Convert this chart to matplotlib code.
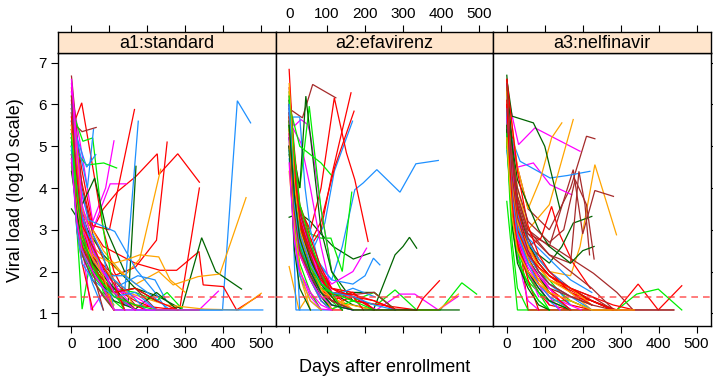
import matplotlib
matplotlib.use("Agg")
import matplotlib.pyplot as plt

plt.rcParams['font.family'] = ['Liberation Sans', 'DejaVu Sans']

panel_titles = ["a1:standard", "a2:efavirenz", "a3:nelfinavir"]
x_ticks = [0, 100, 200, 300, 400, 500]
y_ticks = [1, 2, 3, 4, 5, 6, 7]
detect_limit = 1.398  # log10(25)

# one entry per subject: visit days, log10 viral load, colour key
std_days = [
    [0, 7, 28, 56, 112, 200, 300, 398, 437, 472],
    [0, 28, 56, 84, 122, 170, 226, 230, 280, 337],
    [0, 28, 56, 112, 168, 224, 252],
    [0, 28, 56, 112, 168, 230, 286, 337],
    [0, 28, 84, 168, 233, 277, 336, 347, 400, 435, 497],
    [0, 28, 84, 168, 230, 290, 343, 380, 448],
    [0, 28, 84, 130, 170, 230, 268, 334, 391, 460],
    [0, 28, 56, 100, 140, 180, 235],
    [0, 28, 56, 100, 140, 176],
    [0, 28, 56, 90, 112],
    [0, 28, 56, 102, 145],
    [0, 28, 56, 100, 166],
    [0, 27, 56, 84, 112, 140],
    [0, 28, 65],
    [0, 28, 56, 84, 112, 140],
    [0, 30, 56, 84, 112],
    [0, 40, 85, 119],
    [0, 28, 56, 112, 149, 170],
    [0, 28, 42, 58],
    [0, 40, 64],
    [0, 44, 114, 171, 220, 250],
    [0, 28, 56, 112],
    [0, 28, 61, 92, 140],
    [0, 28, 56, 100],
    [0, 28, 52, 84, 112],
    [0, 28, 56, 112, 168, 224, 252, 294],
    [0, 28, 56, 112, 200, 336, 387],
    [0, 28, 56, 112, 250, 350, 440, 500],
    [0, 28, 56, 112, 168, 250, 350, 504],
    [0, 28, 56, 112, 150, 180, 230, 260, 300],
    [0, 28, 56, 112, 175, 220, 250],
    [0, 14, 28, 56, 84, 140],
    [0, 14, 28, 56, 84, 112],
    [0, 14, 28, 56, 84, 112, 140],
    [0, 14, 28, 56, 84, 112],
    [0, 14, 28, 56, 84, 112],
    [0, 28, 56, 84, 112, 140, 168],
    [0, 14, 28, 56, 84, 112, 168, 224],
    [0, 28, 56, 84, 140, 200, 260],
    [0, 14, 28, 56, 112, 168, 224, 280],
    [0, 28, 56, 84, 140, 196],
    [0, 28, 56, 112],
    [0, 28, 56, 84, 112],
    [0, 14, 28, 56, 112, 168],
    [0, 14, 28, 56, 84, 112],
    [0, 28, 56, 84, 112, 168, 280],
    [0, 28, 56, 84, 112],
    [0, 28, 56, 112, 168],
    [0, 28, 56, 84],
    [0, 28, 56, 84, 112, 168, 224],
    [0, 7, 14, 28, 56, 84, 112],
    [0, 7, 14, 28, 42, 56, 84],
    [0, 7, 21, 42, 84, 112, 168],
    [0, 7, 14, 28, 56, 84, 112, 140, 168],
    [0, 7, 14, 28, 56, 112, 168, 224],
    [0, 7, 14, 28, 56, 84, 112],
    [0, 7, 14, 28, 56, 84, 112, 168],
    [0, 7, 14, 28, 56],
    [0, 7, 14, 28, 56, 84, 140, 196],
    [0, 7, 14, 28, 56, 84, 112, 140],
    [0, 7, 14, 28, 56, 84, 112, 168, 224, 280],
    [0, 14, 28, 56, 84, 112, 168],
    [0, 7, 14, 28, 56, 84, 112],
    [0, 7, 14, 28, 56, 84, 112, 168, 224],
    [0, 14, 28, 56, 84, 112, 140],
    [0, 7, 14, 28, 56, 84],
    [0, 14, 28, 56, 84, 112, 168, 224, 280, 336],
    [0, 7, 14, 28, 56, 84, 112, 168, 336],
]
std_vals = [
    [5.3, 4.6, 3.1, 2.1, 1.08, 1.08, 1.08, 1.08, 6.09, 5.56],
    [5.5, 4.1, 3.0, 3.5, 3.92, 4.28, 4.82, 4.32, 4.82, 4.14],
    [5.0, 3.2, 2.4, 1.9, 2.1, 2.75, 5.1],
    [5.2, 3.0, 2.2, 1.6, 1.3, 1.08, 1.15, 4.0],
    [5.8, 3.4, 2.6, 2.2, 2.03, 2.03, 2.48, 1.68, 1.64, 1.08, 1.44],
    [4.8, 3.2, 2.4, 1.6, 1.4, 1.1, 2.81, 2.0, 1.58],
    [5.5, 3.5, 2.5, 2.0, 1.7, 2.0, 1.68, 1.88, 1.94, 3.77],
    [5.1, 3.3, 2.6, 2.2, 1.9, 2.3, 4.45],
    [4.9, 2.9, 2.1, 1.6, 1.5, 5.6],
    [6.3, 4.8, 3.2, 4.0, 5.13],
    [5.7, 3.8, 3.0, 4.1, 4.1],
    [6.0, 4.4, 3.1, 3.0, 5.88],
    [5.4, 6.04, 4.5, 3.0, 2.0, 1.5],
    [5.6, 5.35, 5.45],
    [6.68, 4.0, 2.9, 2.3, 1.8, 1.08],
    [5.9, 5.12, 5.2, 3.0, 1.5],
    [5.0, 4.55, 4.6, 4.48],
    [5.2, 3.4, 2.6, 1.5, 1.2, 4.52],
    [5.8, 4.6, 4.0, 5.4],
    [5.6, 4.5, 4.8],
    [5.0, 3.24, 2.96, 2.04, 1.5, 1.1],
    [3.5, 3.1, 2.4, 1.5],
    [5.3, 3.6, 4.24, 3.0, 2.0],
    [5.0, 1.1, 2.6, 1.3],
    [5.3, 2.6, 1.08, 1.5, 1.08],
    [5.4, 3.0, 2.0, 1.6, 1.5, 1.3, 1.5, 1.08],
    [5.9, 3.0, 2.0, 1.4, 1.08, 1.08, 1.53],
    [5.2, 3.0, 2.2, 1.6, 1.2, 1.1, 1.08, 1.48],
    [4.8, 2.8, 2.0, 1.4, 1.08, 1.08, 1.08, 1.08],
    [4.6, 3.0, 2.4, 2.2, 2.3, 2.4, 2.35, 1.8, 1.5],
    [5.5, 3.1, 2.2, 1.6, 1.9, 1.8, 1.3],
    [6.2, 4.5, 3.2, 2.4, 1.5, 1.08],
    [6.4, 4.8, 3.0, 2.4, 1.8, 1.08],
    [5.9, 4.2, 2.8, 2.6, 2.0, 1.5, 1.2],
    [5.8, 4.4, 2.9, 2.2, 1.6, 1.08],
    [6.5, 5.0, 3.4, 2.5, 1.9, 1.08],
    [5.0, 3.0, 2.5, 2.0, 1.7, 1.4, 1.08],
    [4.6, 3.5, 2.7, 2.3, 1.6, 1.5, 1.6, 1.08],
    [5.1, 2.9, 2.3, 1.9, 1.9, 1.5, 1.08],
    [5.3, 3.9, 2.6, 2.0, 1.3, 1.1, 1.5, 1.08],
    [4.7, 2.8, 2.2, 1.7, 1.3, 1.08],
    [5.6, 2.4, 1.8, 1.08],
    [4.9, 2.7, 2.0, 1.6, 1.2],
    [6.1, 4.4, 3.0, 1.9, 1.5, 1.08],
    [5.7, 4.0, 2.7, 2.9, 2.4, 1.08],
    [5.4, 3.2, 2.1, 1.7, 1.4, 1.2, 1.08],
    [4.5, 2.5, 1.9, 1.6, 1.08],
    [5.2, 3.3, 2.4, 1.8, 1.2],
    [6.2, 3.5, 2.8, 1.7],
    [4.4, 2.6, 2.0, 1.7, 1.5, 1.6, 1.3],
    [6.1, 5.2, 4.0, 2.9, 2.2, 1.6, 1.08],
    [5.6, 4.6, 3.6, 2.6, 2.1, 1.7, 1.08],
    [4.9, 4.2, 3.0, 2.3, 1.8, 1.5, 1.08],
    [5.9, 4.9, 3.9, 3.1, 2.4, 2.1, 1.8, 1.6, 1.08],
    [6.3, 5.5, 4.3, 3.2, 2.3, 1.6, 1.4, 1.08],
    [5.4, 4.6, 3.3, 2.4, 1.8, 1.4, 1.08],
    [5.1, 4.3, 3.4, 2.8, 2.2, 1.9, 1.6, 1.08],
    [5.8, 4.1, 3.0, 2.2, 1.08],
    [6.0, 5.1, 4.2, 3.3, 2.6, 2.0, 1.6, 1.08],
    [5.3, 4.4, 3.1, 2.5, 2.0, 1.7, 1.5, 1.08],
    [4.8, 4.0, 3.1, 2.6, 2.1, 1.8, 1.5, 1.6, 1.3, 1.08],
    [6.6, 5.1, 3.6, 2.7, 2.0, 1.5, 1.08],
    [5.5, 4.8, 3.7, 2.8, 2.3, 1.9, 1.08],
    [5.0, 3.9, 3.0, 2.2, 1.8, 1.6, 1.4, 1.5, 1.08],
    [5.7, 4.3, 3.1, 2.6, 2.1, 1.7, 1.08],
    [6.2, 5.0, 3.8, 2.9, 2.0, 1.08],
    [5.2, 4.0, 2.9, 2.1, 1.7, 1.4, 1.2, 1.08, 1.08, 1.08],
    [4.7, 3.9, 3.2, 2.5, 2.0, 1.6, 1.08, 1.08, 1.08],
]
std_cols = ("brrrrdoobmmrrnnggdbbbdd" "gmgmobobgrrommnbdrgombrgnod"
            "rbgomndrbgrmobrngm")

efv_days = [
    [0, 28, 56, 112, 140, 173, 195, 231, 292, 334, 393],
    [0, 28, 56, 94, 119, 167],
    [0, 28, 56, 112, 168, 222, 279, 300, 317, 336],
    [0, 28, 56, 84, 116, 169, 213],
    [0, 28, 56, 84, 110, 140, 165],
    [0, 28, 56, 112, 168, 230, 279, 336, 398, 455, 494],
    [0, 28, 56, 112, 168, 230, 292, 331, 393, 446],
    [0, 28, 56, 112, 224, 336, 393, 446],
    [0, 28, 56, 112, 168, 240, 336, 353, 396],
    [0, 35, 62, 123],
    [0, 28, 56, 84, 119, 151, 173, 208],
    [0, 28, 56, 84, 112, 163],
    [0, 28, 56, 84, 120, 171],
    [0, 14, 28, 56, 84, 112, 140],
    [0, 13, 31, 49, 56, 84, 112],
    [0, 31, 56, 84, 112],
    [0, 10, 28, 42, 56, 84],
    [0, 28, 53, 84, 112, 140],
    [0, 28, 44, 84, 112, 168],
    [0, 28, 56, 84, 110],
    [0, 26, 56, 84],
    [0, 18, 56, 112],
    [0, 28, 56, 112, 168, 200, 222, 239],
    [0, 28, 56, 112, 168, 204],
    [0, 14, 28, 56, 84, 112, 168],
    [0, 14, 28, 56, 84, 112],
    [0, 14, 28, 56, 84, 140],
    [0, 14, 28, 56, 84, 112, 168],
    [0, 14, 28, 56, 84, 112],
    [0, 14, 28, 56, 84, 112, 140, 168, 224],
    [0, 14, 28, 56, 84, 112, 168, 224, 280],
    [0, 14, 28, 56, 84, 112],
    [0, 14, 28, 56, 84, 112, 140, 168],
    [0, 14, 28, 56, 84, 112, 168, 224],
    [0, 14, 28, 56, 84, 112, 168, 224, 280],
    [0, 14, 28, 56, 84, 112, 168, 224],
    [0, 14, 28, 56, 84, 112, 140],
    [0, 14, 28, 56, 84, 112, 168, 224, 280],
    [0, 14, 28, 56],
    [0, 14, 28, 56, 84, 112, 168, 224],
    [0, 14, 28, 56, 84, 112, 168],
    [0, 14, 28, 56, 84, 112],
    [0, 14, 28, 56, 84, 112, 140, 168, 196],
    [0, 14, 28, 56, 84, 112],
    [0, 14, 28],
    [0, 14, 28, 56, 84, 112, 168],
    [0, 14, 28, 56, 84, 112, 168, 224, 280, 336],
    [0, 28, 56, 84, 112, 168, 224, 280],
    [0, 7, 14, 28, 56, 84, 112],
    [0, 7, 14, 28, 56, 84],
    [0, 7, 14, 28, 56, 84, 112, 168],
    [0, 7, 14, 28, 56, 84, 112],
    [0, 7, 14, 28, 56, 84, 112, 168],
    [0, 7, 14, 28, 56, 84, 112, 140],
    [0, 7, 14, 28, 56, 84],
    [0, 7, 14, 28, 56, 84, 112, 168, 224],
    [0, 7, 14, 28, 56, 84, 112],
    [0, 7, 14, 28, 56, 84, 112, 168],
    [0, 7, 14, 28, 56, 84, 112, 168, 224, 280],
    [0, 7, 14, 28, 56],
    [0, 7, 14, 28, 56, 84, 112, 140],
    [0, 7, 14, 28, 42, 56, 84],
    [0, 7, 14, 28, 56, 84, 112, 168, 224, 280, 336],
    [0, 7, 14, 28, 56, 84, 112],
    [0, 7, 14, 28, 56, 84, 112, 168],
    [0, 14, 28, 56, 84, 112, 168, 224, 280, 336, 392, 448],
]
efv_vals = [
    [5.5, 3.5, 2.5, 1.8, 2.6, 3.96, 4.12, 4.44, 3.9, 4.58, 4.66],
    [5.4, 3.3, 2.4, 3.16, 4.4, 5.6],
    [4.8, 3.0, 2.2, 1.5, 1.2, 1.08, 2.4, 2.6, 2.82, 2.56],
    [3.3, 3.4, 3.2, 2.9, 2.6, 2.3, 2.44],
    [5.2, 3.6, 2.9, 2.8, 2.8, 2.0, 3.9],
    [5.4, 3.0, 2.0, 1.5, 1.3, 1.2, 1.56, 1.08, 1.08, 1.73, 1.46],
    [5.8, 3.4, 2.3, 1.6, 1.4, 1.08, 1.46, 1.46, 1.08, 1.41],
    [5.0, 2.8, 1.9, 1.3, 1.08, 1.08, 1.08, 1.46],
    [5.6, 3.2, 2.2, 1.6, 1.3, 1.2, 1.08, 1.36, 1.78],
    [5.9, 5.68, 6.48, 6.16],
    [5.0, 3.5, 3.0, 4.0, 6.16, 4.84, 4.2, 2.72],
    [5.8, 3.2, 2.6, 3.0, 4.3, 6.28],
    [5.6, 3.4, 2.7, 3.2, 4.5, 5.84],
    [6.84, 4.5, 3.5, 2.6, 2.0, 1.5, 1.08],
    [5.9, 5.48, 5.64, 5.52, 5.28, 3.5, 2.0],
    [5.6, 5.08, 4.0, 2.6, 1.5],
    [5.0, 5.7, 5.7, 4.0, 3.0, 2.0],
    [5.2, 4.0, 5.96, 3.5, 2.0, 1.5],
    [5.4, 4.0, 6.2, 3.0, 2.0, 1.3],
    [6.0, 5.0, 4.8, 4.6, 4.32],
    [2.12, 1.08, 1.5, 1.08],
    [6.0, 1.08, 1.08, 1.08],
    [5.2, 3.3, 2.4, 1.8, 1.7, 1.9, 2.32, 2.16],
    [5.3, 3.3, 2.4, 1.7, 2.0, 2.56],
    [6.2, 4.6, 3.3, 2.4, 1.9, 1.4, 1.08],
    [5.7, 4.1, 3.0, 2.2, 1.6, 1.08],
    [5.5, 3.9, 2.8, 2.0, 1.5, 1.08],
    [5.9, 4.3, 3.2, 2.4, 1.7, 1.3, 1.08],
    [4.7, 3.5, 2.6, 1.9, 1.3, 1.08],
    [5.3, 4.0, 3.0, 2.3, 1.8, 1.5, 1.3, 1.4, 1.08],
    [5.6, 4.2, 3.1, 2.3, 1.7, 1.4, 1.5, 1.5, 1.08],
    [6.0, 4.6, 3.4, 2.5, 1.8, 1.08],
    [5.1, 3.8, 2.6, 1.9, 1.5, 1.08, 1.3, 1.08],
    [6.4, 4.9, 3.6, 2.8, 2.1, 1.6, 1.5, 1.08],
    [4.9, 3.5, 2.5, 1.8, 1.4, 1.1, 1.3, 1.5, 1.08],
    [5.8, 4.2, 3.0, 2.2, 1.7, 1.4, 1.6, 1.4],
    [5.0, 3.4, 2.4, 1.8, 1.3, 1.08, 1.08],
    [6.1, 4.7, 3.4, 2.6, 1.9, 1.5, 1.45, 1.5, 1.08],
    [4.4, 3.0, 1.9, 1.08],
    [5.5, 4.1, 2.9, 2.1, 1.6, 1.3, 1.5, 1.08],
    [5.4, 3.9, 2.8, 2.0, 1.5, 1.2, 1.08],
    [6.3, 4.8, 3.6, 2.7, 2.0, 1.4],
    [5.7, 4.3, 3.2, 2.5, 2.0, 1.6, 1.5, 1.4, 1.08],
    [5.0, 3.6, 2.6, 1.9, 1.4, 1.08],
    [5.2, 3.5, 1.08],
    [5.4, 4.0, 2.8, 2.0, 1.5, 1.4, 1.08],
    [6.0, 4.4, 3.1, 2.3, 1.8, 1.5, 1.4, 1.3, 1.1, 1.08],
    [5.2, 3.0, 2.2, 1.7, 1.45, 1.45, 1.3, 1.08],
    [6.0, 4.8, 3.6, 2.6, 1.8, 1.3, 1.08],
    [5.5, 4.2, 3.1, 2.2, 1.5, 1.08],
    [6.3, 5.0, 3.9, 2.9, 2.0, 1.6, 1.4, 1.08],
    [5.2, 4.0, 2.9, 2.0, 1.4, 1.1, 1.08],
    [5.8, 4.6, 3.5, 2.5, 1.9, 1.5, 1.3, 1.08],
    [6.1, 5.1, 4.0, 3.0, 2.3, 1.7, 1.4, 1.08],
    [4.9, 3.9, 2.8, 1.9, 1.3, 1.08],
    [5.6, 4.5, 3.5, 2.6, 2.0, 1.6, 1.5, 1.3, 1.08],
    [6.5, 5.3, 4.1, 3.0, 2.2, 1.6, 1.08],
    [5.3, 4.3, 3.3, 2.4, 1.8, 1.4, 1.2, 1.08],
    [5.9, 4.7, 3.8, 2.9, 2.2, 1.7, 1.5, 1.4, 1.2, 1.08],
    [5.0, 3.7, 2.5, 1.6, 1.08],
    [6.2, 4.9, 3.7, 2.7, 2.1, 1.7, 1.5, 1.08],
    [5.4, 4.1, 3.0, 2.1, 1.6, 1.3, 1.08],
    [5.7, 4.4, 3.4, 2.5, 1.9, 1.5, 1.3, 1.08, 1.08, 1.08, 1.08],
    [4.6, 3.6, 2.7, 2.0, 1.5, 1.2, 1.08],
    [6.0, 4.8, 3.6, 2.7, 2.0, 1.5, 1.2, 1.08],
    [5.5, 3.8, 2.8, 2.0, 1.5, 1.2, 1.08, 1.08, 1.08, 1.08, 1.08, 1.08],
]
efv_cols = ("bbddggmornrrrrmmbgdgobbmrogn" "brdmorgbrnorm" "grdbor" "r"
            "bgomndbgombdgonmbd")

nfv_days = [
    [0, 28, 56, 112, 168, 193, 232, 289],
    [0, 28, 56, 112, 168, 210, 232],
    [0, 28, 56, 112, 175, 200, 232, 281],
    [0, 28, 53, 120, 228, 290, 333, 440],
    [0, 31, 74, 193],
    [0, 28, 70, 114, 171],
    [0, 35, 114, 160, 219],
    [0, 28, 56, 88, 118, 145],
    [0, 28, 56, 112, 175],
    [0, 28, 56, 90, 118, 140, 175, 220],
    [0, 28, 56, 112, 224, 290, 346, 399, 461],
    [0, 28, 112, 224, 290, 342, 399, 461],
    [0, 28, 56, 112, 145, 175, 224],
    [0, 14, 70, 100, 140],
    [0, 28, 56, 168, 280, 336],
    [0, 28, 56, 112, 168, 190, 206, 218],
    [0, 28, 56, 112, 168, 224],
    [0, 28, 56, 84, 112, 140, 168],
    [0, 14, 28, 56, 84, 112, 168, 224, 280],
    [0, 14, 28, 56, 84, 112],
    [0, 14, 28, 56, 84, 112, 168],
    [0, 14, 28, 56, 84, 112, 168, 224],
    [0, 14, 28, 56, 84, 112, 168, 224],
    [0, 14, 28, 56, 84, 112, 168, 224, 280],
    [0, 14, 28, 56, 84, 112, 168],
    [0, 14, 28, 56, 84, 112, 168, 224, 280],
    [0, 14, 28, 42, 56, 84],
    [0, 14, 28, 56, 84, 112, 140, 168, 196],
    [0, 14, 28, 56, 84, 112, 140, 168, 224],
    [0, 14, 28, 56, 84, 112, 168],
    [0, 14, 28, 42, 84, 112, 168],
    [0, 14, 28, 56, 84, 112, 168],
    [0, 14, 28, 56, 84, 112, 168, 224, 280, 336],
    [0, 14, 28, 56, 84, 112, 140, 168],
    [0, 14, 28, 56, 84, 112, 140],
    [0, 14, 28, 56, 84, 112, 168, 224, 280],
    [0, 28, 56, 112, 168, 224, 280],
    [0, 14, 28, 56, 84, 112],
    [0, 14, 28, 56, 84, 112, 168, 224],
    [0, 28, 56, 84, 112, 140, 168, 200, 230],
    [0, 28, 56, 84, 112, 168, 224],
    [0, 14, 28, 56, 84],
    [0, 28, 56, 112, 150, 180, 210, 230],
    [0, 7, 14, 28, 56, 84, 112, 140, 168],
    [0, 7, 14, 28, 56, 84, 112],
    [0, 7, 14, 28, 56, 84, 112, 168, 224],
    [0, 7, 14, 28, 56, 84, 112, 140],
    [0, 7, 14, 28, 56, 84, 112, 168, 224, 280, 336, 392, 440],
    [0, 7, 14, 28, 56, 84, 112, 168],
    [0, 7, 14, 28, 56, 84],
    [0, 7, 14, 28, 56, 84, 112, 168, 224],
    [0, 7, 14, 28, 56, 84, 112],
    [0, 7, 14, 28, 56, 84, 112, 168],
    [0, 7, 14, 28, 56, 84, 112, 140, 196],
    [0, 7, 14, 28, 56, 84, 112, 168, 224, 280],
    [0, 7, 14, 28, 56, 84, 112],
    [0, 7, 14, 28, 56, 84, 112, 168, 224],
    [0, 7, 14, 28, 56],
    [0, 7, 14, 28, 56, 84, 112, 168],
    [0, 7, 14, 28, 56, 84, 112, 140, 168],
    [0, 7, 14, 28, 56, 84, 112, 168, 224, 336],
]
nfv_vals = [
    [5.5, 3.5, 2.6, 2.0, 1.9, 2.6, 4.56, 2.88],
    [6.0, 4.5, 3.5, 3.0, 4.0, 5.24, 5.18],
    [5.6, 3.8, 3.0, 2.6, 4.44, 2.9, 3.94, 3.8],
    [5.8, 3.5, 2.92, 2.6, 1.96, 1.5, 1.08, 1.08],
    [6.3, 5.04, 5.44, 4.88],
    [5.7, 4.5, 4.6, 4.08, 3.84],
    [5.5, 4.64, 4.24, 4.3, 4.4],
    [6.5, 4.5, 3.5, 4.2, 5.2, 5.56],
    [6.0, 4.0, 3.0, 3.6, 5.64],
    [5.5, 3.2, 2.6, 2.8, 3.56, 2.88, 2.2, 1.6],
    [5.2, 3.0, 2.4, 1.8, 1.3, 1.08, 1.7, 1.08, 1.66],
    [3.68, 1.08, 1.08, 1.08, 1.08, 1.46, 1.58, 1.08],
    [5.3, 3.4, 2.6, 2.2, 2.6, 3.16, 3.32],
    [6.6, 5.72, 5.56, 5.0, 3.5],
    [6.2, 3.2, 1.08, 1.08, 1.08, 1.08],
    [5.9, 3.8, 3.0, 2.4, 2.2, 4.4, 3.6, 2.4],
    [5.3, 3.5, 2.8, 2.3, 1.8, 1.5],
    [5.8, 3.2, 2.4, 2.0, 1.8, 1.5, 1.3],
    [6.2, 4.5, 3.2, 2.5, 2.2, 1.9, 1.5, 1.3, 1.08],
    [6.4, 4.8, 3.4, 2.4, 1.7, 1.2],
    [5.9, 4.3, 3.1, 2.3, 1.9, 1.5, 1.08],
    [6.1, 4.4, 3.0, 2.2, 1.8, 1.5, 1.3, 1.08],
    [5.0, 3.6, 2.5, 1.9, 1.5, 1.3, 1.3, 1.08],
    [6.7, 5.0, 3.6, 2.7, 2.2, 1.9, 1.6, 1.3, 1.08],
    [5.7, 4.0, 2.8, 2.0, 1.5, 1.2, 1.08],
    [6.3, 4.8, 3.6, 2.8, 2.3, 2.0, 1.6, 1.4, 1.08],
    [6.5, 3.8, 2.5, 1.8, 1.3, 1.08],
    [6.0, 4.6, 3.4, 2.7, 2.3, 2.0, 1.8, 1.5, 1.3],
    [5.4, 3.9, 2.8, 2.2, 1.8, 1.6, 1.4, 1.2, 1.08],
    [5.8, 4.2, 3.0, 2.3, 1.9, 1.4, 1.08],
    [6.4, 4.0, 2.6, 1.9, 1.5, 1.3, 1.08],
    [5.2, 3.9, 2.9, 2.3, 1.9, 1.5, 1.08],
    [6.0, 4.6, 3.5, 2.6, 2.2, 1.9, 1.6, 1.4, 1.2, 1.08],
    [5.6, 4.3, 3.2, 2.5, 2.0, 1.6, 1.3, 1.08],
    [4.9, 3.6, 2.7, 2.0, 1.6, 1.3, 1.08],
    [5.1, 3.9, 2.9, 2.4, 2.0, 1.7, 1.4, 1.3, 1.08],
    [5.5, 3.7, 2.9, 2.4, 2.0, 1.6, 1.1],
    [5.7, 3.6, 2.3, 1.7, 1.3, 1.08],
    [5.3, 4.1, 3.2, 2.6, 2.1, 1.8, 1.6, 1.2],
    [5.9, 4.2, 3.6, 3.0, 2.6, 2.4, 2.2, 2.5, 2.6],
    [6.6, 4.4, 3.1, 2.4, 2.0, 1.5, 1.2],
    [6.0, 4.4, 3.0, 2.0, 1.4],
    [5.4, 4.0, 3.2, 2.7, 3.0, 4.2, 3.6, 2.3],
    [6.2, 5.1, 4.1, 3.1, 2.4, 2.0, 1.7, 1.5, 1.2],
    [5.6, 4.5, 3.4, 2.5, 1.9, 1.5, 1.08],
    [6.4, 5.3, 4.2, 3.2, 2.6, 2.1, 1.8, 1.5, 1.08],
    [5.9, 4.6, 3.5, 2.7, 2.1, 1.7, 1.4, 1.08],
    [6.0, 4.8, 3.8, 2.9, 2.3, 1.9, 1.6, 1.4, 1.2, 1.08, 1.08, 1.08, 1.08],
    [5.4, 4.3, 3.3, 2.6, 2.0, 1.6, 1.3, 1.08],
    [6.6, 5.2, 3.9, 2.7, 1.8, 1.08],
    [5.8, 4.7, 3.7, 2.9, 2.4, 2.0, 1.7, 1.4, 1.08],
    [5.1, 4.1, 3.1, 2.3, 1.7, 1.3, 1.08],
    [6.3, 5.0, 4.0, 3.0, 2.3, 1.8, 1.5, 1.08],
    [5.7, 4.6, 3.6, 2.8, 2.2, 1.9, 1.6, 1.3, 1.08],
    [6.1, 4.9, 3.9, 3.0, 2.4, 2.1, 1.9, 1.6, 1.3, 1.08],
    [5.5, 4.2, 3.1, 2.2, 1.6, 1.2, 1.08],
    [6.5, 5.4, 4.3, 3.3, 2.5, 2.0, 1.7, 1.4, 1.2],
    [5.3, 3.9, 2.7, 1.6, 1.08],
    [5.9, 4.8, 3.8, 2.9, 2.2, 1.7, 1.4, 1.1],
    [6.0, 4.7, 3.6, 2.6, 2.0, 1.7, 1.5, 1.3, 1.08],
    [5.2, 4.2, 3.3, 2.5, 2.0, 1.7, 1.5, 1.3, 1.08, 1.08],
]
nfv_cols = ("onnnmmboorrgddrnbgrmbogdrnmbrogdrmbrngodrmn"
            "bgomndrbgomrdngbro")

palette = {
    'r': '#FF0000', 'b': '#1E90FF', 'g': '#00EE00', 'o': '#FFA500',
    'm': '#FF00FF', 'n': '#A52A2A', 'd': '#006400',
}

panels = [(std_days, std_vals, std_cols),
          (efv_days, efv_vals, efv_cols),
          (nfv_days, nfv_vals, nfv_cols)]

W, H = 713, 380
fig = plt.figure(figsize=(W / 100, H / 100), dpi=100)

# panel geometry in pixels
px_left, px_right = 58, 711
pw = (px_right - px_left) / 3
p_top, p_bot, s_top = 53, 326, 32

for i, (days, vals, cols) in enumerate(panels):
    left = (px_left + i * pw) / W
    ax = fig.add_axes([left, (H - p_bot) / H, pw / W, (p_bot - p_top) / H])
    sx = fig.add_axes([left, (H - p_top) / H, pw / W, (p_top - s_top) / H])

    for d, v, c in zip(days, vals, cols):
        ax.plot(d, v, color=palette[c], lw=0.9, solid_joinstyle='miter')
    ax.axhline(detect_limit, color='#ff4040', ls=(0, (4, 3)), lw=1.2, alpha=0.8, zorder=5)

    ax.set_xlim(-35.5, 538)
    ax.set_ylim(0.696, 7.233)
    ax.set_xticks(x_ticks)
    ax.set_yticks(y_ticks)
    ax.tick_params(direction='out', length=5, width=0.8, labelsize=11, pad=3,
                   left=(i == 0), labelleft=(i == 0),
                   right=(i == 2), labelright=False,
                   bottom=True, labelbottom=(i != 1), top=False)
    for s in ax.spines.values():
        s.set_linewidth(1.0)

    sx.set_facecolor('#FFE5CC')
    sx.set_xlim(-35.5, 538)
    sx.set_ylim(0, 1)
    sx.set_xticks(x_ticks)
    sx.set_yticks([])
    sx.tick_params(direction='out', length=5, width=0.8, labelsize=11, pad=3,
                   bottom=False, labelbottom=False,
                   top=True, labeltop=(i == 1))
    for s in sx.spines.values():
        s.set_linewidth(1.0)
    sx.text(0.5, 0.45, panel_titles[i], transform=sx.transAxes,
            ha='center', va='center', fontsize=13)

fig.text((px_left + px_right) / 2 / W, 1 - 368 / H, "Days after enrollment",
         ha='center', va='center', fontsize=13)
fig.text(16 / W, 1 - 190 / H, "Viral load (log10 scale)",
         ha='center', va='center', rotation=90, fontsize=13)

fig.savefig("out.png", dpi=100)
